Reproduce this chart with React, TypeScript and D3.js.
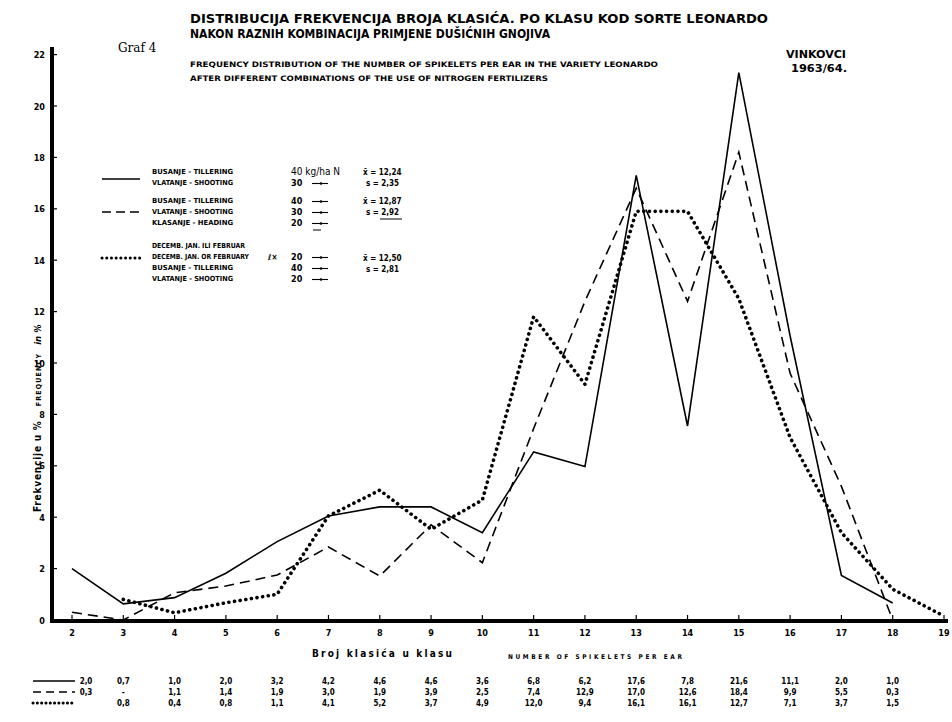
import React from "react";
import * as d3 from "d3";

// ---------- data ----------
const spikelets = [2, 3, 4, 5, 6, 7, 8, 9, 10, 11, 12, 13, 14, 15, 16, 17, 18, 19];
// plotted frequencies (% of ears)
const solidVals: (number | null)[] = [2.0, 0.63, 0.87, 1.82, 3.05, 4.05, 4.4, 4.4, 3.4, 6.54, 5.97, 17.3, 7.55, 21.3, 11.05, 1.73, 0.66, null];
const dashedVals: (number | null)[] = [0.3, 0.0, 1.06, 1.32, 1.75, 2.84, 1.71, 3.7, 2.23, 7.45, 12.4, 16.8, 12.4, 18.2, 9.6, 5.2, 0.0, null];
const dottedVals: (number | null)[] = [null, 0.8, 0.28, 0.67, 1.0, 4.05, 5.05, 3.53, 4.67, 11.8, 9.17, 15.9, 15.9, 12.5, 7.1, 3.4, 1.2, 0.15];

// table printed under the chart (x = 2 .. 18)
const tableSolid = ["2,0", "0,7", "1,0", "2,0", "3,2", "4,2", "4,6", "4,6", "3,6", "6,8", "6,2", "17,6", "7,8", "21,6", "11,1", "2,0", "1,0"];
const tableDashed = ["0,3", "-", "1,1", "1,4", "1,9", "3,0", "1,9", "3,9", "2,5", "7,4", "12,9", "17,0", "12,6", "18,4", "9,9", "5,5", "0,3"];
const tableDotted = ["", "0,8", "0,4", "0,8", "1,1", "4,1", "5,2", "3,7", "4,9", "12,0", "9,4", "16,1", "16,1", "12,7", "7,1", "3,7", "1,5"];

const yTicks = [0, 2, 4, 6, 8, 10, 12, 14, 16, 18, 20, 22];

const titleLines = [
  "DISTRIBUCIJA FREKVENCIJA BROJA KLASIĆA. PO KLASU KOD SORTE LEONARDO",
  "NAKON RAZNIH KOMBINACIJA PRIMJENE DUŠIĆNIH GNOJIVA",
];
const subtitleLines = [
  "FREQUENCY DISTRIBUTION OF THE NUMBER OF SPIKELETS PER EAR IN THE VARIETY LEONARDO",
  "AFTER DIFFERENT COMBINATIONS OF THE USE OF NITROGEN FERTILIZERS",
];

const FONT = "'DejaVu Sans Condensed','DejaVu Sans',sans-serif";
const INK = "#000";

export default function App() {
  const x = d3.scaleLinear().domain([2, 19]).range([72, 944]);
  const y = d3.scaleLinear().domain([0, 22]).range([620, 54.6]);
  const axisY = 621;
  const axisX = 52;

  const mk = (vals: (number | null)[]) =>
    d3
      .line<number>()
      .defined((_, i) => vals[i] != null)
      .x((d) => x(d))
      .y((_, i) => y(vals[i] as number))(spikelets) || "";

  const sty = (ls: "solid" | "dashed" | "dotted") =>
    ls === "solid"
      ? { stroke: INK, strokeWidth: 1.6, fill: "none" }
      : ls === "dashed"
      ? { stroke: INK, strokeWidth: 1.6, fill: "none", strokeDasharray: "10 6" }
      : { stroke: INK, strokeWidth: 3.6, fill: "none", strokeDasharray: "0.1 5.6", strokeLinecap: "round" as const };

  const lt = (props: any, s: string) => (
    <text fontFamily={FONT} fontWeight="bold" fill={INK} {...props}>
      {s}
    </text>
  );

  const legendFont = 7;
  const ditto = (xx: number, yy: number, key: string) => (
    <g key={key}>
      <line x1={xx} x2={xx + 16} y1={yy - 2.5} y2={yy - 2.5} stroke={INK} strokeWidth={1.1} />
      <circle cx={xx + 9} cy={yy - 2.5} r={1.3} fill={INK} />
    </g>
  );

  const tableRows = [tableSolid, tableDashed, tableDotted];
  const rowY = [684, 695, 706];
  const rowStyles: ("solid" | "dashed" | "dotted")[] = ["solid", "dashed", "dotted"];

  return (
    <svg width={952} height={722} style={{ position: "absolute", left: 0, top: 0, background: "#fff" }}>
      <rect width={952} height={722} fill="#fff" />

      {/* titles */}
      {lt({ x: 190, y: 23, fontSize: 13, textLength: 578, lengthAdjust: "spacingAndGlyphs" }, titleLines[0])}
      {lt({ x: 190, y: 38, fontSize: 13, textLength: 360, lengthAdjust: "spacingAndGlyphs" }, titleLines[1])}
      {lt({ x: 190, y: 67, fontSize: 7.5, textLength: 468, lengthAdjust: "spacingAndGlyphs" }, subtitleLines[0])}
      {lt({ x: 190, y: 81, fontSize: 7.5, textLength: 358, lengthAdjust: "spacingAndGlyphs" }, subtitleLines[1])}
      <text x={118} y={52} fontFamily="'DejaVu Serif',serif" fontSize={12} fill={INK}>
        Graf 4
      </text>
      {lt({ x: 816, y: 58, fontSize: 11, textAnchor: "middle", textLength: 60, lengthAdjust: "spacingAndGlyphs" }, "VINKOVCI")}
      {lt({ x: 819, y: 72, fontSize: 11, textAnchor: "middle", textLength: 56, lengthAdjust: "spacingAndGlyphs" }, "1963/64.")}

      {/* axes */}
      <line x1={axisX} x2={axisX} y1={47} y2={axisY + 2} stroke={INK} strokeWidth={4} />
      <line x1={axisX - 2} x2={948} y1={axisY} y2={axisY} stroke={INK} strokeWidth={4} />
      {yTicks.map((t) => (
        <g key={"yt" + t}>
          <line x1={axisX} x2={axisX + 5} y1={y(t)} y2={y(t)} stroke={INK} strokeWidth={1.2} />
          {lt({ x: 45, y: y(t) + 3.5, fontSize: 9, textAnchor: "end" }, String(t))}
        </g>
      ))}
      {spikelets.map((s) => (
        <g key={"xt" + s}>
          <line x1={x(s)} x2={x(s)} y1={axisY - 6} y2={axisY} stroke={INK} strokeWidth={1.2} />
          {lt({ x: x(s), y: 636, fontSize: 9, textAnchor: "middle" }, String(s))}
        </g>
      ))}

      {/* axis titles */}
      <text transform="translate(41,512) rotate(-90)" fontFamily={FONT} fontWeight="bold" fill={INK}>
        <tspan fontSize={10} letterSpacing={0.8}>Frekvencije u %</tspan>
        <tspan fontSize={7} dx={14} letterSpacing={1.2}>FREQUENCY</tspan>
        <tspan fontSize={9.5} dx={8} fontStyle="italic">in %</tspan>
      </text>
      <text x={312} y={657} fontFamily={FONT} fontWeight="bold" fontSize={10} fill={INK} letterSpacing={2.2}>
        Broj klasića u klasu
      </text>
      {lt({ x: 508, y: 659, fontSize: 6.5, textLength: 174, lengthAdjust: "spacing" }, "NUMBER OF SPIKELETS PER EAR")}

      {/* curves */}
      <path d={mk(solidVals)} {...sty("solid")} />
      <path d={mk(dashedVals)} {...sty("dashed")} />
      <path d={mk(dottedVals)} {...sty("dotted")} />

      {/* legend group 1 */}
      <line x1={102} x2={140} y1={179} y2={179} {...sty("solid")} />
      {lt({ x: 152, y: 174, fontSize: legendFont, textLength: 81, lengthAdjust: "spacingAndGlyphs" }, "BUSANJE - TILLERING")}
      {lt({ x: 152, y: 185, fontSize: legendFont, textLength: 81, lengthAdjust: "spacingAndGlyphs" }, "VLATANJE - SHOOTING")}
      <text x={291} y={175} fontFamily={FONT} fontSize={10} fill={INK}>40 kg/ha N</text>
      {lt({ x: 291, y: 186, fontSize: 9 }, "30")}
      {ditto(312, 186, "d1")}
      {lt({ x: 363, y: 175, fontSize: 8 }, "x̄ = 12,24")}
      {lt({ x: 366, y: 186, fontSize: 8 }, "s = 2,35")}

      {/* legend group 2 */}
      <line x1={102} x2={140} y1={212} y2={212} {...sty("dashed")} strokeDasharray="9 5" />
      {lt({ x: 152, y: 203, fontSize: legendFont, textLength: 81, lengthAdjust: "spacingAndGlyphs" }, "BUSANJE - TILLERING")}
      {lt({ x: 152, y: 214, fontSize: legendFont, textLength: 81, lengthAdjust: "spacingAndGlyphs" }, "VLATANJE - SHOOTING")}
      {lt({ x: 152, y: 225, fontSize: legendFont, textLength: 81, lengthAdjust: "spacingAndGlyphs" }, "KLASANJE - HEADING")}
      {lt({ x: 291, y: 204, fontSize: 9 }, "40")}
      {lt({ x: 291, y: 215, fontSize: 9 }, "30")}
      {lt({ x: 291, y: 226, fontSize: 9 }, "20")}
      {ditto(312, 204, "d2")}
      {ditto(312, 215, "d3")}
      {ditto(312, 226, "d4")}
      <line x1={313} x2={321} y1={230} y2={230} stroke={INK} strokeWidth={1} />
      {lt({ x: 363, y: 204, fontSize: 8 }, "x̄ = 12,87")}
      {lt({ x: 366, y: 215, fontSize: 8 }, "s = 2,92")}
      <line x1={380} x2={402} y1={219} y2={219} stroke={INK} strokeWidth={1} />

      {/* legend group 3 */}
      <line x1={102} x2={140} y1={258} y2={258} {...sty("dotted")} strokeWidth={3} strokeDasharray="0.1 4.6" />
      {lt({ x: 152, y: 248, fontSize: legendFont, textLength: 93, lengthAdjust: "spacingAndGlyphs" }, "DECEMB. JAN. ILI FEBRUAR")}
      {lt({ x: 152, y: 259, fontSize: legendFont, textLength: 97, lengthAdjust: "spacingAndGlyphs" }, "DECEMB. JAN. OR FEBRUARY")}
      {lt({ x: 152, y: 270, fontSize: legendFont, textLength: 81, lengthAdjust: "spacingAndGlyphs" }, "BUSANJE - TILLERING")}
      {lt({ x: 152, y: 281, fontSize: legendFont, textLength: 81, lengthAdjust: "spacingAndGlyphs" }, "VLATANJE - SHOOTING")}
      {lt({ x: 268, y: 260, fontSize: 8 }, "ℓ×")}
      {lt({ x: 291, y: 260, fontSize: 9 }, "20")}
      {lt({ x: 291, y: 271, fontSize: 9 }, "40")}
      {lt({ x: 291, y: 282, fontSize: 9 }, "20")}
      {ditto(312, 260, "d5")}
      {ditto(312, 271, "d6")}
      {ditto(312, 282, "d7")}
      {lt({ x: 363, y: 261, fontSize: 8 }, "x̄ = 12,50")}
      {lt({ x: 366, y: 272, fontSize: 8 }, "s = 2,81")}

      {/* table */}
      {tableRows.map((row, ri) => (
        <g key={"row" + ri}>
          <line
            x1={33}
            x2={75}
            y1={rowY[ri] - 3}
            y2={rowY[ri] - 3}
            {...sty(rowStyles[ri])}
            {...(ri === 2 ? { strokeWidth: 3, strokeDasharray: "0.1 4.2" } : ri === 1 ? { strokeDasharray: "8 5" } : {})}
          />
          {row.map((v, ci) =>
            lt(
              {
                key: "c" + ri + "_" + ci,
                x: ci === 0 ? x(spikelets[ci]) + 14 : x(spikelets[ci]),
                y: rowY[ri],
                fontSize: 8,
                textAnchor: "middle",
              },
              v
            )
          )}
        </g>
      ))}
    </svg>
  );
}
